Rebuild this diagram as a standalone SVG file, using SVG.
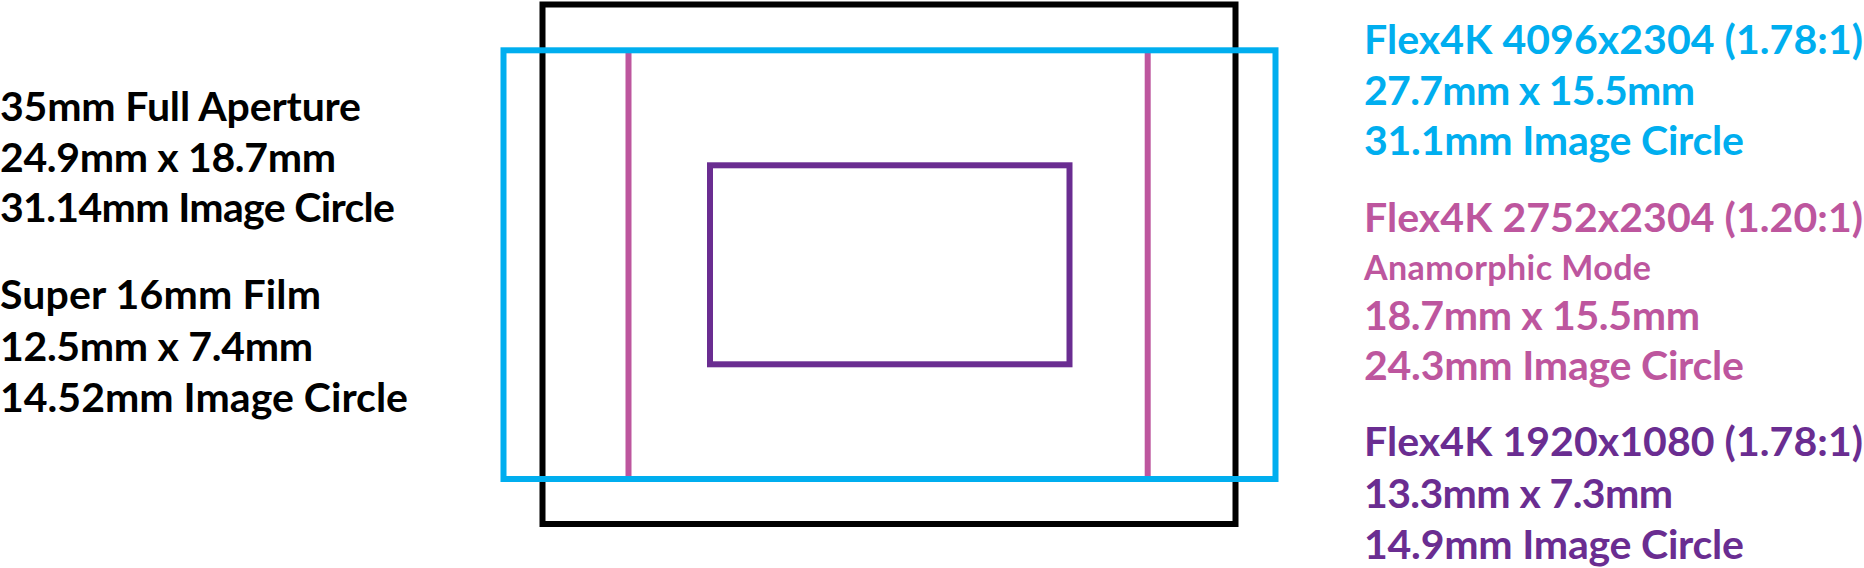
<svg xmlns="http://www.w3.org/2000/svg" width="1864" height="568" viewBox="0 0 1864 568">
<style>
  .frame { fill: none; stroke-width: 6; }
  .t { font-family: Lato, "Open Sans", "Liberation Sans", sans-serif; font-weight: 700; font-size: 41px; }
  .ts { font-size: 34px; }
  .k { fill: #000000; }
  .b { fill: #00AEEF; }
  .m { fill: #BD569E; }
  .p { fill: #6A2D91; }
</style>
<rect width="1864" height="568" fill="#ffffff"/>
<g id="frame-35mm-full-aperture">
  <rect class="frame" x="542.5" y="4.5" width="693" height="519.5" stroke="#000000"/>
</g>
<g id="frame-anamorphic">
  <line x1="628.5" y1="50" x2="628.5" y2="479" stroke="#BD569E" stroke-width="6"/>
  <line x1="1147.7" y1="50" x2="1147.7" y2="479" stroke="#BD569E" stroke-width="6"/>
</g>
<g id="frame-flex4k-4096">
  <rect class="frame" x="503.5" y="50.3" width="772" height="428.7" stroke="#00AEEF"/>
</g>
<g id="frame-flex4k-1920">
  <rect class="frame" x="710" y="165.3" width="359.5" height="199" stroke="#6A2D91"/>
</g>
<g id="connectors"></g>
<g id="label-35mm" class="t k">
  <text x="0" y="121" textLength="361" lengthAdjust="spacing">35mm Full Aperture</text>
  <text x="0" y="172" textLength="336" lengthAdjust="spacing">24.9mm x 18.7mm</text>
  <text x="0" y="222" textLength="395" lengthAdjust="spacing">31.14mm Image Circle</text>
</g>
<g id="label-super16" class="t k">
  <text x="0" y="309" textLength="321" lengthAdjust="spacing">Super 16mm Film</text>
  <text x="0" y="361" textLength="313" lengthAdjust="spacing">12.5mm x 7.4mm</text>
  <text x="0" y="412" textLength="408" lengthAdjust="spacing">14.52mm Image Circle</text>
</g>
<g id="label-flex4k-4096" class="t b">
  <text x="1364" y="54" textLength="499" lengthAdjust="spacing">Flex4K 4096x2304 (1.78:1)</text>
  <text x="1364" y="104.5" textLength="331" lengthAdjust="spacing">27.7mm x 15.5mm</text>
  <text x="1364" y="155" textLength="380" lengthAdjust="spacing">31.1mm Image Circle</text>
</g>
<g id="label-flex4k-2752" class="t m">
  <text x="1364" y="231.5" textLength="499" lengthAdjust="spacing">Flex4K 2752x2304 (1.20:1)</text>
  <text x="1364" y="279.5" class="ts" textLength="287" lengthAdjust="spacing">Anamorphic Mode</text>
  <text x="1364" y="329.5" textLength="336" lengthAdjust="spacing">18.7mm x 15.5mm</text>
  <text x="1364" y="379.5" textLength="380" lengthAdjust="spacing">24.3mm Image Circle</text>
</g>
<g id="label-flex4k-1920" class="t p">
  <text x="1364" y="456" textLength="499" lengthAdjust="spacing">Flex4K 1920x1080 (1.78:1)</text>
  <text x="1364" y="507.5" textLength="309" lengthAdjust="spacing">13.3mm x 7.3mm</text>
  <text x="1364" y="558.5" textLength="380" lengthAdjust="spacing">14.9mm Image Circle</text>
</g>
</svg>
